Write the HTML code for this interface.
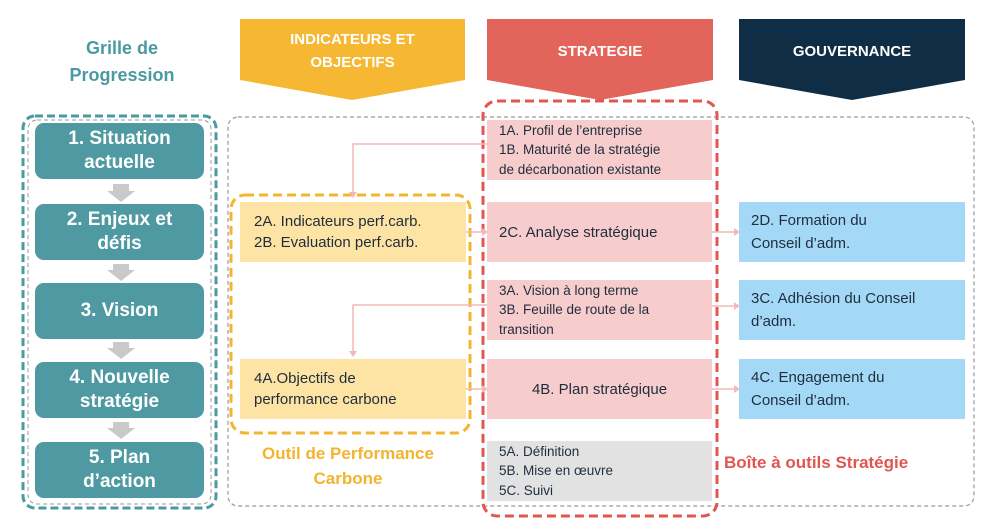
<!DOCTYPE html>
<html><head><meta charset="utf-8"><style>
body{margin:0;width:986px;height:518px;background:#fff;font-family:"Liberation Sans",sans-serif;position:relative;overflow:hidden}
.a{position:absolute;box-sizing:border-box}
.t{display:flex;align-items:center;justify-content:center;text-align:center}
.teal{background:#4f9aa2;color:#fff;font-weight:bold;font-size:19px;line-height:24px;border-radius:9px;left:35px;width:169px;height:56px}
.y{background:#fde4a4;color:#1f2d3d;font-size:15px;line-height:21px;padding-left:14px;display:flex;flex-direction:column;justify-content:center}
.p{background:#f6cccc;color:#1f2d3d;font-size:15px;line-height:21px;padding-left:12px;display:flex;flex-direction:column;justify-content:center}
.s{font-size:13.5px;line-height:19.5px}
.b{background:#a3d9f7;color:#1f2d3d;font-size:15px;line-height:23px;padding-left:12px;display:flex;flex-direction:column;justify-content:center}
.hd{color:#fff;font-weight:bold;font-size:15px;line-height:23px}
</style></head><body>
<svg class="a" style="left:0;top:0" width="986" height="518">
<polygon points="240,19 465,19 465,80 352,100 240,80" fill="#f6b832"/>
<polygon points="487,19 713,19 713,80 600,100 487,80" fill="#e3645b"/>
<polygon points="739,19 965,19 965,80 852,100 739,80" fill="#0f2d44"/>
<rect x="228" y="117" width="746" height="389" rx="10" fill="none" stroke="#999" stroke-width="1.2" stroke-dasharray="4,3"/>
<rect x="23" y="116" width="193" height="392" rx="12" fill="none" stroke="#4a9aa1" stroke-width="3" stroke-dasharray="8,4"/>
<rect x="28" y="120" width="183" height="384" rx="9" fill="none" stroke="#999" stroke-width="1" stroke-dasharray="4,3"/>
<rect x="231" y="195" width="239" height="238" rx="14" fill="none" stroke="#f3b42e" stroke-width="3" stroke-dasharray="9,5"/>
<rect x="483" y="101" width="234" height="415" rx="14" fill="none" stroke="#e05650" stroke-width="3" stroke-dasharray="9,5"/>
<g fill="#c9c9c9">
<polygon points="113,184 129,184 129,191 135,191 121,202 107,191 113,191"/>
<polygon points="113,264 129,264 129,270 135,270 121,281 107,270 113,270"/>
<polygon points="113,342 129,342 129,348 135,348 121,359 107,348 113,348"/>
<polygon points="113,422 129,422 129,428 135,428 121,439 107,428 113,428"/>
</g>
<g stroke="#f4b8b8" stroke-width="1.5" fill="none">
<polyline points="487,144 353,144 353,193"/>
<polyline points="487,305 353,305 353,352"/>
<line x1="466" y1="232" x2="485" y2="232"/><line x1="466" y1="389" x2="485" y2="389"/>
<line x1="712" y1="232" x2="737" y2="232"/><line x1="712" y1="306" x2="737" y2="306"/><line x1="712" y1="389" x2="737" y2="389"/>
</g>
<g fill="#f4b8b8">
<polygon points="349,192 357,192 353,198"/><polygon points="349,351 357,351 353,357"/>
<polygon points="482,228 488,232 482,236"/><polygon points="482,385 488,389 482,393"/>
<polygon points="734,228 740,232 734,236"/><polygon points="734,302 740,306 734,310"/><polygon points="734,385 740,389 734,393"/>
</g>
</svg>
<div class="a t hd" style="left:240px;top:28px;width:225px;height:46px">INDICATEURS ET<br>OBJECTIFS</div>
<div class="a t hd" style="left:487px;top:28px;width:226px;height:46px">STRATEGIE</div>
<div class="a t hd" style="left:739px;top:28px;width:226px;height:46px">GOUVERNANCE</div>
<div class="a t" style="left:22px;top:35px;width:200px;height:54px;color:#4a9aa1;font-weight:bold;font-size:18px;line-height:27px">Grille de<br>Progression</div>
<div class="a t teal" style="top:123px">1. Situation<br>actuelle</div>
<div class="a t teal" style="top:204px">2. Enjeux et<br>défis</div>
<div class="a t teal" style="top:283px">3. Vision</div>
<div class="a t teal" style="top:362px">4. Nouvelle<br>stratégie</div>
<div class="a t teal" style="top:442px">5. Plan<br>d’action</div>
<div class="a y" style="left:240px;top:202px;width:226px;height:60px"><div>2A. Indicateurs perf.carb.</div><div>2B. Evaluation perf.carb.</div></div>
<div class="a y" style="left:240px;top:359px;width:226px;height:60px"><div>4A.Objectifs de</div><div>performance carbone</div></div>
<div class="a p s" style="left:487px;top:120px;width:225px;height:60px"><div>1A. Profil de l’entreprise</div><div>1B. Maturité de la stratégie</div><div>de décarbonation existante</div></div>
<div class="a p" style="left:487px;top:202px;width:225px;height:60px"><div>2C. Analyse stratégique</div></div>
<div class="a p s" style="left:487px;top:280px;width:225px;height:60px"><div>3A. Vision à long terme</div><div>3B. Feuille de route de la</div><div>transition</div></div>
<div class="a p t" style="left:487px;top:359px;width:225px;height:60px;padding:0">4B. Plan stratégique</div>
<div class="a p s" style="left:487px;top:441px;width:225px;height:60px;background:#e2e2e2"><div>5A. Définition</div><div>5B. Mise en œuvre</div><div>5C. Suivi</div></div>
<div class="a b" style="left:739px;top:202px;width:226px;height:60px"><div>2D. Formation du</div><div>Conseil d’adm.</div></div>
<div class="a b" style="left:739px;top:280px;width:226px;height:60px"><div>3C. Adhésion du Conseil</div><div>d’adm.</div></div>
<div class="a b" style="left:739px;top:359px;width:226px;height:60px"><div>4C. Engagement du</div><div>Conseil d’adm.</div></div>
<div class="a t" style="left:230px;top:440px;width:236px;height:52px;color:#f3b42e;font-weight:bold;font-size:17px;line-height:25px">Outil de Performance<br>Carbone</div>
<div class="a" style="left:724px;top:452px;width:240px;color:#e05650;font-weight:bold;font-size:17px;line-height:22px">Boîte à outils Stratégie</div>
</body></html>
